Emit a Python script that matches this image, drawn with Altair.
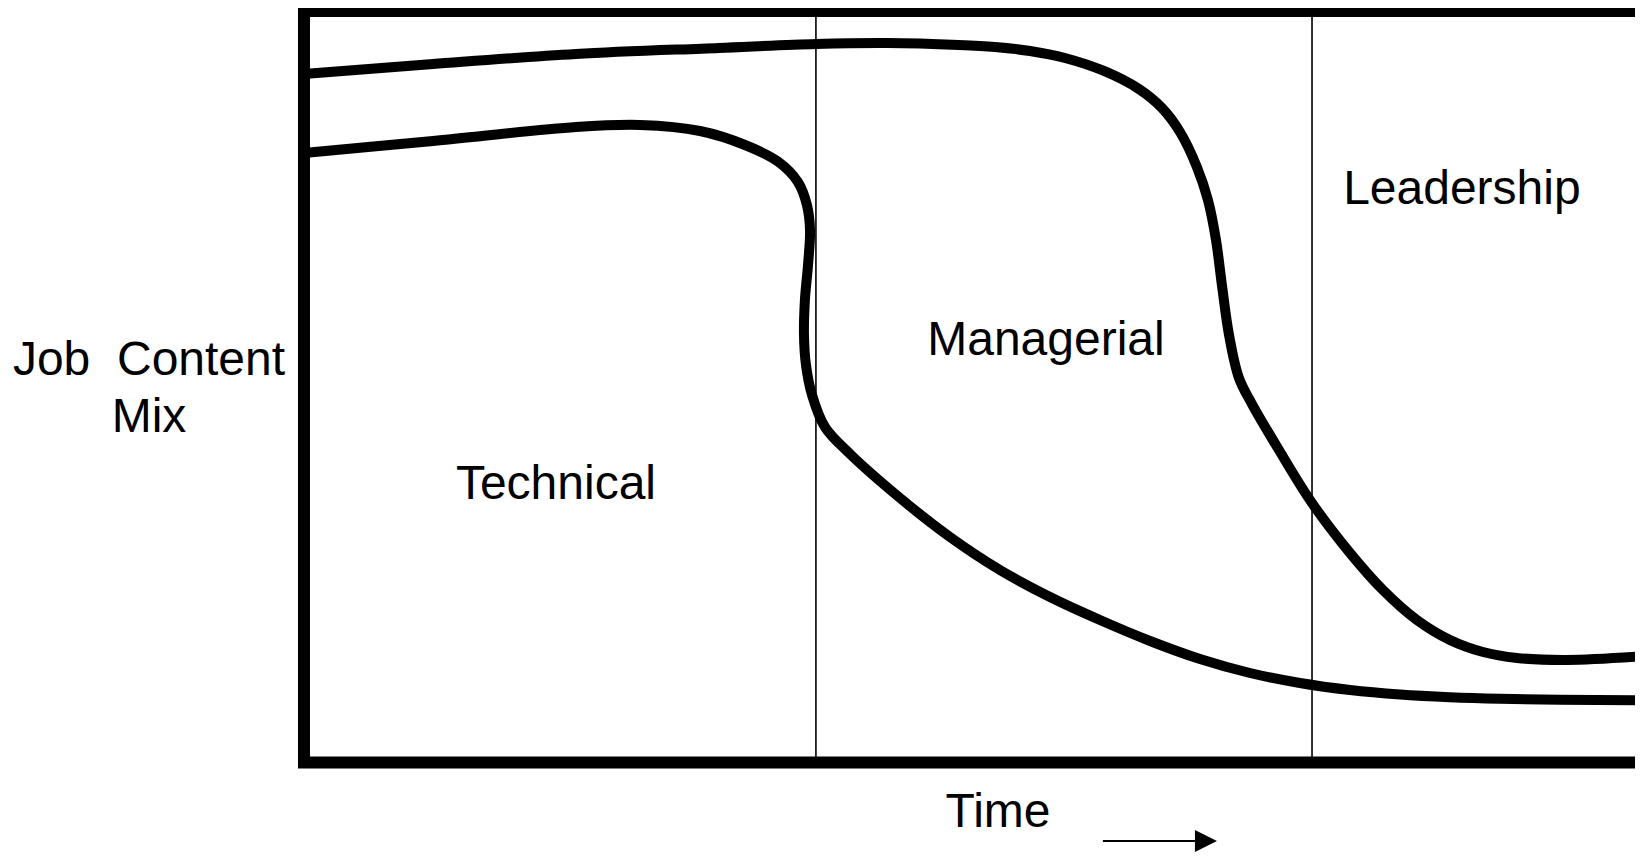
import altair as alt
import pandas as pd

# ---- data (time index 0..100 across the frame, job-content share 0..100) ----
upper_t = [0, 9.61, 20.25, 30.90, 38.12, 43.41, 48.77, 51.45, 54.06, 56.66, 59.57, 62.17,
           63.89, 65.23, 66.49, 67.31, 67.91, 68.35, 68.88, 69.62, 70.59, 72.60, 75.06,
           77.89, 80.34, 82.87, 85.33, 87.79, 90.32, 94.04, 100]
upper_s = [91.62, 92.95, 94.28, 95.08, 95.61, 95.74, 95.48, 95.21, 94.68, 93.75, 92.02, 89.62,
           87.09, 83.90, 79.24, 74.85, 69.53, 63.54, 56.89, 51.16, 47.70, 41.58, 34.53,
           27.88, 22.95, 18.96, 16.30, 14.70, 13.91, 13.64, 14.17]

lower_t = [0, 9.61, 20.25, 25.02, 29.49, 32.84, 35.29, 36.78, 37.45, 37.68, 37.53, 37.30,
           37.23, 37.38, 37.83, 38.79, 40.66, 44.38, 48.10, 51.82, 55.55, 59.27, 63.00,
           66.72, 70.44, 74.16, 77.89, 81.61, 85.33, 89.05, 93.52, 100]
lower_s = [81.11, 82.70, 84.56, 84.83, 84.03, 82.17, 79.97, 77.25, 74.19, 70.86, 66.20, 61.54,
           56.89, 52.89, 48.90, 44.64, 41.05, 35.20, 30.01, 25.62, 22.02, 18.96, 16.17,
           13.77, 11.91, 10.58, 9.65, 9.05, 8.69, 8.48, 8.36, 8.28]

stage_bounds = [38.12, 75.06]

labels = ["Technical", "Managerial", "Leadership", "Job\u00a0\u00a0Content", "Mix", "Time"]
label_t = [18.76, 55.25, 86.22, -11.54, -11.54, 51.68]
label_s = [35.06, 54.23, 74.30, 51.56, 43.98, -8.58]

arrow_t = [59.49, 66.72]
arrow_head_t = [67.16]
arrow_s = [-10.45]

# ---- scales (plot area spans the page area inside the body margin) ----
W, H = 1627, 851
xs = alt.Scale(domain=[-22.04, 99.11], nice=False, zero=False)
ys = alt.Scale(domain=[-12.84, 100.40], nice=False, zero=False)

frame_df = pd.DataFrame({"t": [0], "t2": [100], "s": [0], "s2": [100]})
frame = alt.Chart(frame_df).mark_rect(fillOpacity=0, stroke="black", strokeWidth=12).encode(
    x=alt.X("t:Q", scale=xs, axis=None), x2="t2:Q",
    y=alt.Y("s:Q", scale=ys, axis=None), y2="s2:Q")

rules_df = pd.DataFrame({"t": stage_bounds, "s": [0, 0], "s2": [100, 100]})
rules = alt.Chart(rules_df).mark_rule(color="black", strokeWidth=1.6).encode(
    x=alt.X("t:Q", scale=xs, axis=None),
    y=alt.Y("s:Q", scale=ys, axis=None), y2="s2:Q")

rows = []
for i, (t, s) in enumerate(zip(upper_t, upper_s)):
    rows.append({"curve": "upper", "order": i, "t": t, "s": s})
for i, (t, s) in enumerate(zip(lower_t, lower_s)):
    rows.append({"curve": "lower", "order": i, "t": t, "s": s})
curves_df = pd.DataFrame(rows)
curves = alt.Chart(curves_df).mark_line(
    color="black", strokeWidth=10, interpolate="catmull-rom", strokeCap="butt").encode(
    x=alt.X("t:Q", scale=xs, axis=None),
    y=alt.Y("s:Q", scale=ys, axis=None),
    detail="curve:N", order="order:Q")

text_df = pd.DataFrame({"label": labels, "t": label_t, "s": label_s})
texts = alt.Chart(text_df).mark_text(
    font="Liberation Sans", fontSize=48, align="center", baseline="alphabetic", color="black").encode(
    x=alt.X("t:Q", scale=xs, axis=None),
    y=alt.Y("s:Q", scale=ys, axis=None),
    text="label:N")

arrow_df = pd.DataFrame({"t": [arrow_t[0]], "t2": [arrow_t[1]], "s": arrow_s})
arrow_line = alt.Chart(arrow_df).mark_rule(color="black", strokeWidth=2).encode(
    x=alt.X("t:Q", scale=xs, axis=None), x2="t2:Q",
    y=alt.Y("s:Q", scale=ys, axis=None))

head_df = pd.DataFrame({"t": arrow_head_t, "s": arrow_s})
arrow_head = alt.Chart(head_df).mark_point(
    shape="M-1,-1L1,0L-1,1Z", size=484, filled=True, color="black", opacity=1).encode(
    x=alt.X("t:Q", scale=xs, axis=None),
    y=alt.Y("s:Q", scale=ys, axis=None))

chart = alt.layer(frame, rules, curves, texts, arrow_line, arrow_head).properties(
    width=W, height=H,
    padding={"left": 0, "top": 0, "right": 0, "bottom": 0},
    autosize=alt.AutoSizeParams(type="none"),
    background="white",
).configure_view(stroke=None)

chart.save("out.html", embed_options={"renderer": "svg", "actions": False})
